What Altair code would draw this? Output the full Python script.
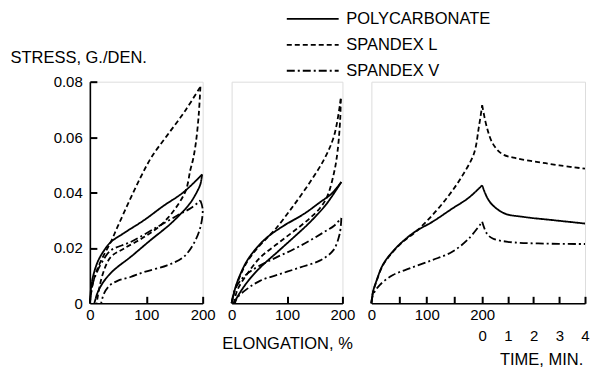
import altair as alt
import pandas as pd

FONT = "Liberation Sans"
SERIES = ["POLYCARBONATE", "SPANDEX L", "SPANDEX V"]
DASHES = [[1, 0], [5, 3], [8, 3, 2, 3]]

# ---------------- Panel 1 : first cycle (elongation %, stress g/den) -------------
p1_pc_load_x = [0, 3, 8, 15, 25, 37, 60, 96, 130, 166, 199]
p1_pc_load_y = [0, 0.007, 0.0115, 0.0155, 0.019, 0.0221, 0.0253, 0.030, 0.0351, 0.0401, 0.0465]
p1_pc_unload_x = [199, 196, 191, 181, 172, 143, 107, 72, 42, 25, 14, 8]
p1_pc_unload_y = [0.0465, 0.043, 0.0407, 0.0371, 0.0347, 0.0287, 0.0227, 0.0167, 0.0119, 0.008, 0.004, 0]
p1_l_load_x = [0, 4, 10, 20, 37, 50, 69, 90, 110, 140, 170, 196]
p1_l_load_y = [0, 0.006, 0.0105, 0.0155, 0.0221, 0.028, 0.0365, 0.0455, 0.053, 0.0614, 0.0698, 0.0782]
p1_l_unload_x = [196, 193, 188, 183, 178, 170, 149, 125, 96, 60, 37, 22, 12]
p1_l_unload_y = [0.0782, 0.068, 0.058, 0.052, 0.048, 0.0407, 0.0335, 0.0281, 0.0239, 0.0197, 0.0167, 0.010, 0]
p1_v_load_x = [0, 5, 12, 22, 37, 72, 119, 155, 180, 196]
p1_v_load_y = [0, 0.007, 0.011, 0.015, 0.0191, 0.0221, 0.0275, 0.0317, 0.0345, 0.0371]
p1_v_unload_x = [196, 200, 196, 184, 166, 137, 96, 72, 50, 35, 25, 20]
p1_v_unload_y = [0.0371, 0.034, 0.0275, 0.0215, 0.0167, 0.0137, 0.0113, 0.0095, 0.0082, 0.0064, 0.0035, 0]

# ---------------- Panel 2 : later cycle -------------
p2_pc_load_x = [0, 7, 16, 28, 46, 64, 94, 130, 159, 180, 198]
p2_pc_load_y = [0, 0.0058, 0.0106, 0.0154, 0.0202, 0.0238, 0.028, 0.0322, 0.0364, 0.0395, 0.0438]
p2_pc_unload_x = [198, 171, 141, 112, 82, 52, 28, 10, 4]
p2_pc_unload_y = [0.0438, 0.0358, 0.0292, 0.0238, 0.0184, 0.013, 0.0076, 0.0022, 0]
p2_l_load_x = [0, 7, 16, 28, 46, 64, 80, 107, 137, 167, 185, 197]
p2_l_load_y = [0, 0.0055, 0.0102, 0.015, 0.0198, 0.0236, 0.027, 0.034, 0.0424, 0.052, 0.0605, 0.0738]
p2_l_unload_x = [197, 196, 191, 185, 173, 160, 140, 112, 82, 52, 28, 10, 4]
p2_l_unload_y = [0.0738, 0.0665, 0.0545, 0.0473, 0.0388, 0.0345, 0.0305, 0.026, 0.0214, 0.0166, 0.0106, 0.0046, 0]
p2_v_load_x = [0, 5, 15, 30, 50, 80, 112, 140, 165, 185, 198]
p2_v_load_y = [0, 0.0045, 0.008, 0.011, 0.0135, 0.0165, 0.0195, 0.0225, 0.0255, 0.028, 0.0308]
p2_v_unload_x = [198, 195, 183, 159, 124, 88, 52, 28, 10, 6]
p2_v_unload_y = [0.0308, 0.025, 0.019, 0.0154, 0.013, 0.0106, 0.0082, 0.0052, 0.002, 0]

# ---------------- Panel 3 : extension then stress relaxation -------------
p3_pc_load_x = [0, 3, 9, 21, 39, 57, 80, 110, 146, 175, 200]
p3_pc_load_y = [0, 0.0042, 0.008, 0.014, 0.0188, 0.0224, 0.026, 0.0294, 0.0342, 0.038, 0.0426]
p3_pc_relax_t = [0, 0.18, 0.41, 0.88, 1.59, 2.77, 4.0]
p3_pc_relax_y = [0.0426, 0.0384, 0.0354, 0.0324, 0.0312, 0.030, 0.0288]
p3_l_load_x = [0, 3, 9, 21, 39, 57, 80, 110, 140, 164, 185, 194, 200]
p3_l_load_y = [0, 0.004, 0.0078, 0.0138, 0.0186, 0.0222, 0.0258, 0.0318, 0.039, 0.046, 0.054, 0.0636, 0.0715]
p3_l_relax_t = [0, 0.18, 0.41, 0.76, 1.35, 2.18, 3.0, 4.0]
p3_l_relax_y = [0.0715, 0.0636, 0.0577, 0.054, 0.0523, 0.051, 0.0498, 0.0486]
p3_v_load_x = [0, 3, 15, 39, 69, 110, 146, 176, 200]
p3_v_load_y = [0, 0.003, 0.0066, 0.0102, 0.0126, 0.0156, 0.0186, 0.0234, 0.0294]
p3_v_relax_t = [0, 0.18, 0.41, 1.0, 2.18, 4.0]
p3_v_relax_y = [0.0294, 0.0252, 0.0234, 0.0222, 0.0216, 0.0214]

Y_TICKS = [0, 0.02, 0.04, 0.06, 0.08]
Y_INNER_TICKS = [0.02, 0.04, 0.06, 0.08]
ELONG_LABELS = [0, 100, 200]
ELONG_TICKS_12 = [100, 200]
ELONG_TICKS_3 = [50, 100, 150, 200]
TIME_LABELS = [0, 1, 2, 3, 4]
TIME_TICKS = [1, 2, 3, 4]

# the time part of panel 3 continues the elongation axis: 200 % mark = 0 min
T0, PER_MIN = 200, 46.4


def rows(series, part, xs, ys, xname="x"):
    return [{"series": series, "part": series + "-" + part, "i": i, xname: x, "y": y}
            for i, (x, y) in enumerate(zip(xs, ys))]


df1 = pd.DataFrame(
    rows(SERIES[0], "load", p1_pc_load_x, p1_pc_load_y) + rows(SERIES[0], "unload", p1_pc_unload_x, p1_pc_unload_y)
    + rows(SERIES[1], "load", p1_l_load_x, p1_l_load_y) + rows(SERIES[1], "unload", p1_l_unload_x, p1_l_unload_y)
    + rows(SERIES[2], "load", p1_v_load_x, p1_v_load_y) + rows(SERIES[2], "unload", p1_v_unload_x, p1_v_unload_y))
df2 = pd.DataFrame(
    rows(SERIES[0], "load", p2_pc_load_x, p2_pc_load_y) + rows(SERIES[0], "unload", p2_pc_unload_x, p2_pc_unload_y)
    + rows(SERIES[1], "load", p2_l_load_x, p2_l_load_y) + rows(SERIES[1], "unload", p2_l_unload_x, p2_l_unload_y)
    + rows(SERIES[2], "load", p2_v_load_x, p2_v_load_y) + rows(SERIES[2], "unload", p2_v_unload_x, p2_v_unload_y))
df3a = pd.DataFrame(
    rows(SERIES[0], "load", p3_pc_load_x, p3_pc_load_y) + rows(SERIES[1], "load", p3_l_load_x, p3_l_load_y)
    + rows(SERIES[2], "load", p3_v_load_x, p3_v_load_y))
df3b = pd.DataFrame(
    rows(SERIES[0], "relax", p3_pc_relax_t, p3_pc_relax_y, "t") + rows(SERIES[1], "relax", p3_l_relax_t, p3_l_relax_y, "t")
    + rows(SERIES[2], "relax", p3_v_relax_t, p3_v_relax_y, "t"))

W1, W2, W3, H = 113, 111, 214, 222
TICK = 7

yscale = alt.Scale(domain=[0, 0.08], nice=False, zero=False)
dash_scale = alt.Scale(domain=SERIES, range=DASHES)
xs12 = alt.Scale(domain=[0, 200], nice=False)
xs3 = alt.Scale(domain=[0, T0 + PER_MIN * 4], nice=False)

LBL = dict(labelFont=FONT, labelFontSize=15, labelColor="black", labelFlush=False,
           labelOverlap=False, grid=False, ticks=False, titleFont=FONT, titleFontSize=16.5,
           titleFontWeight="normal", titleColor="black")
DOM = dict(domainColor="black", domainWidth=1.6)
TCK = dict(labels=False, domain=False, grid=False, title=None, ticks=True,
           tickSize=TICK, tickWidth=2, tickColor="black")

legend = alt.Legend(orient="none", legendX=-67, legendY=-71.2, title=None,
                    symbolType="M-5,0H5", symbolSize=108, symbolStrokeColor="black",
                    symbolStrokeWidth=1.8, labelFont=FONT, labelFontSize=16.5,
                    labelColor="black", labelOffset=25.3, rowPadding=9)


def lines(df, xaxis, yaxis, leg, xscale, opacity=1.0, calc=None):
    ch = alt.Chart(df)
    if calc:
        ch = ch.transform_calculate(x=calc)
    return ch.mark_line(strokeWidth=1.8, color="black", interpolate="catmull-rom",
                        strokeOpacity=opacity).encode(
        x=alt.X("x:Q", scale=xscale, axis=xaxis),
        y=alt.Y("y:Q", scale=yscale, axis=yaxis),
        strokeDash=alt.StrokeDash("series:N", scale=dash_scale, legend=leg),
        detail="part:N",
        order="i:Q",
    )


# labelled axes (no ticks) and tick-only axes moved onto the opposite edge so ticks point inward
yaxis1 = alt.Axis(values=Y_TICKS, labelExpr="datum.value == 0 ? '0' : format(datum.value, '.2f')",
                  labelPadding=7.6, title="STRESS, G./DEN.", titleAngle=0,
                  titleAlign="left", titleBaseline="middle", titleX=-80, titleY=-24,
                  **LBL, **DOM)
yticks1 = alt.Axis(orient="right", offset=-W1, values=Y_INNER_TICKS, **TCK)
xaxis1 = alt.Axis(values=ELONG_LABELS, labelPadding=4, title=None, format="d", **LBL, **DOM)
xticks1 = alt.Axis(orient="top", offset=-H, values=ELONG_TICKS_12, **TCK)
xaxis2 = alt.Axis(values=ELONG_LABELS, labelPadding=4, title="ELONGATION, %",
                  titleY=40, titleBaseline="middle", format="d", **LBL, **DOM)
xticks2 = alt.Axis(orient="top", offset=-H, values=ELONG_TICKS_12, **TCK)
xaxis3 = alt.Axis(values=ELONG_LABELS, labelPadding=4, title=None, format="d", **LBL, **DOM)
taxis3 = alt.Axis(values=[T0 + PER_MIN * t for t in TIME_LABELS], orient="bottom",
                  labelExpr="format(round((datum.value - %s) / %s), 'd')" % (T0, PER_MIN),
                  labelPadding=25.5, domain=False, title="TIME, MIN.", titleX=170, titleY=56,
                  titleBaseline="middle", **LBL)
xticks3 = alt.Axis(orient="top", offset=-H,
                   values=ELONG_TICKS_3 + [T0 + PER_MIN * t for t in TIME_TICKS], **TCK)

relax_x = "%s + datum.t * %s" % (T0, PER_MIN)

p1 = alt.layer(
    lines(df1, xaxis1, yaxis1, None, xs12),
    lines(df1, xticks1, yticks1, None, xs12, opacity=0.0),
).resolve_axis(x="independent", y="independent").properties(width=W1, height=H)

p2 = alt.layer(
    lines(df2, xaxis2, None, None, xs12),
    lines(df2, xticks2, None, None, xs12, opacity=0.0),
).resolve_axis(x="independent").properties(width=W2, height=H)

p3 = alt.layer(
    lines(df3a, xaxis3, None, legend, xs3),
    lines(df3b, taxis3, None, legend, xs3, calc=relax_x),
    lines(df3a, xticks3, None, legend, xs3, opacity=0.0),
).resolve_axis(x="independent").properties(width=W3, height=H)

chart = (alt.hconcat(p1, p2, p3, spacing=29, bounds="flush")
         .resolve_scale(strokeDash="independent")
         .properties(padding={"left": 1, "top": 1.5, "right": 0, "bottom": 3})
         .configure_view(stroke=None)
         .configure(font=FONT, background="white"))

chart.save("out.html", embed_options={"renderer": "svg", "actions": False})
